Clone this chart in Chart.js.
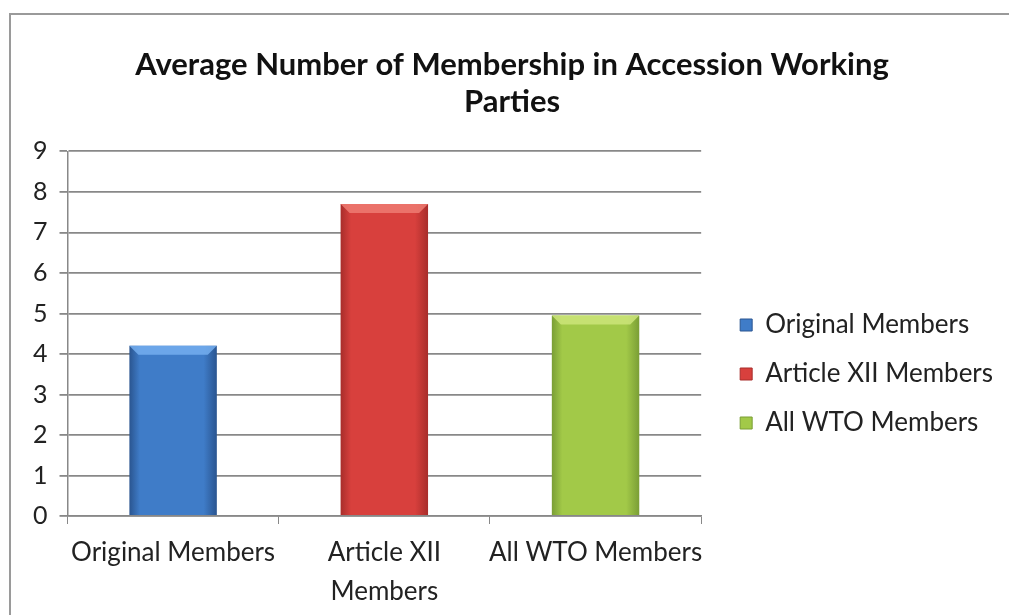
<!DOCTYPE html>
<html>
<head>
<meta charset="utf-8">
<script src="https://cdn.jsdelivr.net/npm/chart.js@4"></script>
<style>
  html, body { margin: 0; padding: 0; background: #fff; }
  #wrap { position: relative; width: 1009px; height: 615px; overflow: hidden; }
  #frame { position: absolute; left: 9px; top: 13px; right: -5px; bottom: -5px;
           border-left: 2px solid #9a9a9a; border-top: 2px solid #9a9a9a; }
  canvas { position: absolute; left: 0; top: 0; }
</style>
</head>
<body>
<div id="wrap">
  <div id="frame"></div>
  <canvas id="chart" width="1009" height="615"></canvas>
</div>
<script>
const categories = ['Original Members', ['Article XII', 'Members'], 'All WTO Members']
const legendNames = ['Original Members', 'Article XII Members', 'All WTO Members']
const values = [4.2, 7.7, 4.95]
const yTicks = [0, 1, 2, 3, 4, 5, 6, 7, 8, 9]

// edge, middle, top bevel colours for each bar
const edgeColors = ['#2a5590', '#a82d2b', '#7a9e35']
const midColors = ['#3f7cc8', '#d8403d', '#a2c948']
const topColors = ['#74aeee', '#ef7b72', '#cde57a']

const barPct = 0.9
const catPct = 0.46

function barFill(context) {
  const chart = context.chart
  const i = context.dataIndex
  const xs = chart.scales.x
  if (!xs || xs.width === 0 || i === undefined) return midColors[i] || '#888'
  const cx = xs.getPixelForValue(i)
  const half = xs.width / categories.length * barPct * catPct / 2
  const g = chart.ctx.createLinearGradient(cx - half, 0, cx + half, 0)
  g.addColorStop(0, edgeColors[i])
  g.addColorStop(0.12, midColors[i])
  g.addColorStop(0.85, midColors[i])
  g.addColorStop(1, edgeColors[i])
  return g
}

const bevel = {
  id: 'bevel',
  afterDatasetsDraw(chart) {
    const ctx = chart.ctx
    chart.getDatasetMeta(0).data.forEach((bar, i) => {
      const l = bar.x - bar.width / 2, r = bar.x + bar.width / 2
      const t = bar.y, d = 9
      ctx.save()
      ctx.fillStyle = topColors[i]
      ctx.globalAlpha = 0.85
      ctx.beginPath()
      ctx.moveTo(l, t)
      ctx.lineTo(r, t)
      ctx.lineTo(r - d, t + d)
      ctx.lineTo(l + d, t + d)
      ctx.closePath()
      ctx.fill()
      ctx.restore()
    })
  }
}

new Chart(document.getElementById('chart'), {
  type: 'bar',
  data: {
    labels: categories,
    datasets: [{
      data: values,
      backgroundColor: barFill,
      barPercentage: barPct,
      categoryPercentage: catPct
    }]
  },
  options: {
    responsive: false,
    animation: false,
    layout: { padding: { left: 21, right: 6, top: 46, bottom: 3 } },
    plugins: {
      title: {
        display: true,
        text: ['Average Number of Membership in Accession Working', 'Parties'],
        color: '#111',
        font: { family: 'Lato', size: 31, weight: 'bold', lineHeight: 1.2 },
        padding: { top: 0, bottom: 31 }
      },
      legend: {
        position: 'right',
        maxWidth: 320,
        // empty title only used to push the items down
        title: { display: true, text: ' ', font: { size: 10, lineHeight: 1 }, padding: { top: 40, bottom: 40 } },
        labels: {
          font: { family: 'Lato', size: 26 },
          color: '#222',
          boxWidth: 12,
          boxHeight: 12,
          padding: 23,
          generateLabels: () => legendNames.map((n, i) => ({
            text: n,
            fillStyle: midColors[i],
            strokeStyle: edgeColors[i],
            fontColor: '#222',
            lineWidth: 1,
            hidden: false,
            index: i
          }))
        }
      },
      tooltip: { enabled: false }
    },
    scales: {
      x: {
        afterFit: s => { s.height -= 8 },
        grid: { drawOnChartArea: false, color: '#888', tickLength: 8, offset: true },
        border: { color: '#888', width: 1.5 },
        ticks: {
          color: '#222',
          font: { family: 'Lato', size: 26, lineHeight: 1.5 },
          maxRotation: 0,
          autoSkip: false,
          padding: 9
        }
      },
      y: {
        min: 0,
        max: 9,
        afterBuildTicks: s => { s.ticks = yTicks.map(v => ({ value: v })) },
        grid: { color: '#888', lineWidth: 1.8, tickLength: 8 },
        border: { color: '#888', width: 1.5 },
        ticks: {
          color: '#222',
          font: { family: 'Lato', size: 25 },
          padding: 12
        }
      },
      // blank spacer between plot and legend
      gap: {
        type: 'linear',
        position: 'right',
        grid: { display: false },
        border: { display: false },
        ticks: { display: false },
        afterFit: s => { s.width = 16 }
      }
    }
  },
  plugins: [bevel]
})
</script>
</body>
</html>
